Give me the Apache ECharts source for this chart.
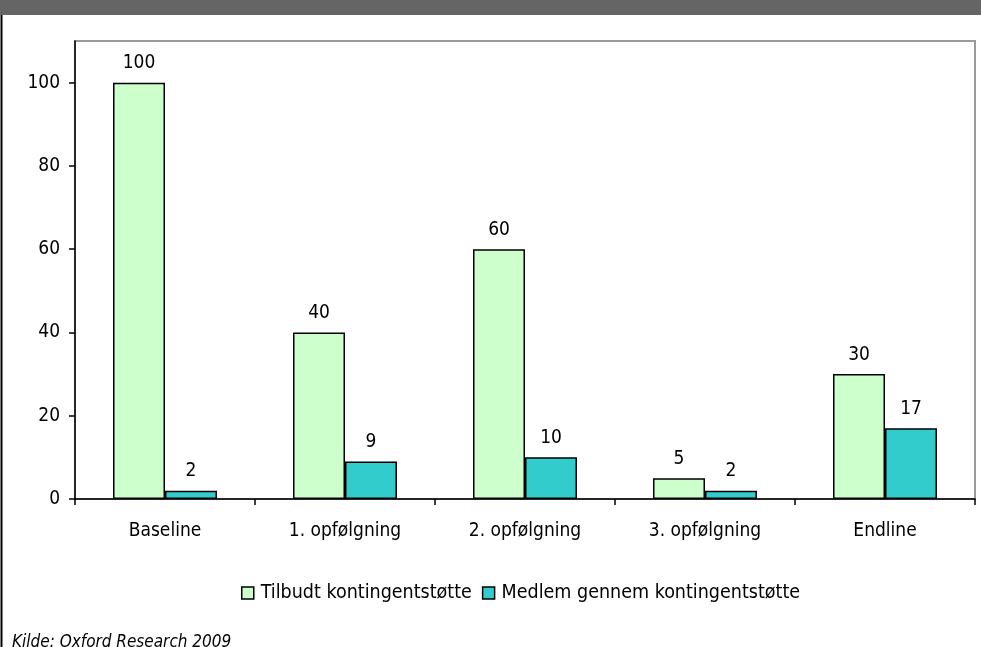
<!DOCTYPE html>
<html>
<head>
<meta charset="utf-8">
<title>Kontingentstøtte</title>
<script src="https://cdn.jsdelivr.net/npm/echarts@6/dist/echarts.min.js"></script>
<style>
  html, body { margin: 0; padding: 0; background: #fff; }
  #chart { width: 981px; height: 647px; }
</style>
</head>
<body>
<div id="chart"></div>
<script>
// Rounds of the survey
const categories = ['Baseline', '1. opfølgning', '2. opfølgning', '3. opfølgning', 'Endline'];
// Series values
const tilbudt = [100, 40, 60, 5, 30];
const medlem = [2, 9, 10, 2, 17];
const seriesNames = ['Tilbudt kontingentstøtte', 'Medlem gennem kontingentstøtte'];
// Y axis ticks
const yTicks = [0, 20, 40, 60, 80, 100];
const sourceText = 'Kilde: Oxford Research 2009';

const FONT = '"DejaVu Sans Condensed", "DejaVu Sans", sans-serif';

const chart = echarts.init(document.getElementById('chart'), null, { renderer: 'canvas' });

const barLabel = {
  show: true,
  position: 'top',
  distance: 10,
  color: '#000',
  fontFamily: FONT,
  fontSize: 19
};

chart.setOption({
  animation: false,
  backgroundColor: '#fff',
  textStyle: { fontFamily: FONT },
  grid: {
    left: 75,
    right: 6,
    top: 41,
    height: 458,
    show: true,
    borderColor: '#9a9a9a',
    borderWidth: 2,
    containLabel: false
  },
  xAxis: {
    type: 'category',
    data: categories,
    axisLine: { lineStyle: { color: '#000', width: 1.5 } },
    axisTick: { show: true, length: 6, lineStyle: { color: '#000', width: 1.5 } },
    axisLabel: { color: '#000', fontFamily: FONT, fontSize: 19, margin: 23 },
    splitLine: { show: false }
  },
  yAxis: {
    type: 'value',
    min: 0,
    max: 110,
    interval: 20,
    axisLine: { show: true, lineStyle: { color: '#000', width: 1.5 } },
    axisTick: { show: true, length: 6, inside: false, customValues: yTicks, lineStyle: { color: '#000', width: 1.5 } },
    axisLabel: { color: '#000', fontFamily: FONT, fontSize: 19, margin: 15, customValues: yTicks },
    splitLine: { show: false }
  },
  legend: {
    left: 241,
    top: 583,
    padding: 0,
    itemWidth: 12,
    itemHeight: 12,
    itemGap: 10,
    icon: 'rect',
    textStyle: { color: '#000', fontFamily: FONT, fontSize: 19.5, padding: [0, 0, 0, 2] },
    data: [
      { name: seriesNames[0], itemStyle: { color: '#ccffcc', borderColor: '#000', borderWidth: 1.5 } },
      { name: seriesNames[1], itemStyle: { color: '#33cccc', borderColor: '#000', borderWidth: 1.5 } }
    ]
  },
  series: [
    {
      name: seriesNames[0],
      type: 'bar',
      data: tilbudt,
      barWidth: 52,
      barGap: '0%',
      itemStyle: { color: '#ccffcc', borderColor: '#000', borderWidth: 1.5 },
      label: barLabel
    },
    {
      name: seriesNames[1],
      type: 'bar',
      data: medlem,
      barWidth: 52,
      barGap: '0%',
      itemStyle: { color: '#33cccc', borderColor: '#000', borderWidth: 1.5 },
      label: barLabel
    }
  ],
  graphic: [
    {
      type: 'rect',
      shape: { x: 0, y: 0, width: 981, height: 15 },
      style: { fill: '#656565' },
      silent: true
    },
    {
      type: 'line',
      shape: { x1: 1.5, y1: 15, x2: 1.5, y2: 647 },
      style: { stroke: '#000', lineWidth: 2 },
      silent: true
    },
    {
      type: 'text',
      left: 12,
      top: 634,
      style: {
        text: sourceText,
        fill: '#000',
        font: 'italic 17px "DejaVu Sans Condensed", "DejaVu Sans", sans-serif'
      },
      silent: true
    }
  ]
});
</script>
</body>
</html>
